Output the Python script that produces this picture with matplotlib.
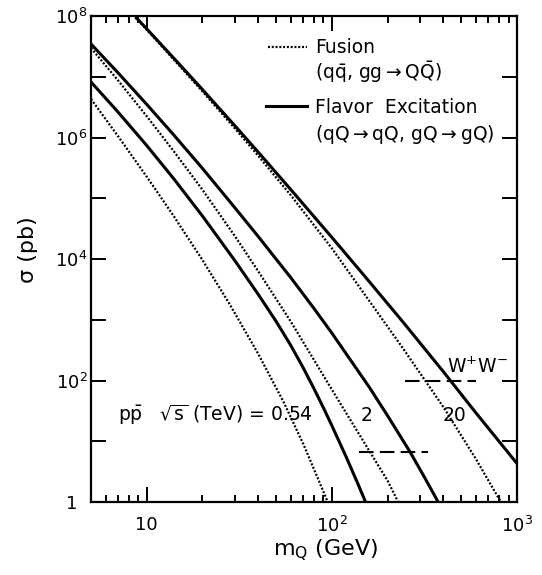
import matplotlib
matplotlib.use("Agg")
import matplotlib.pyplot as plt
from matplotlib.lines import Line2D

plt.rcParams['font.family'] = ['DejaVu Sans']
plt.rcParams['mathtext.fontset'] = 'dejavusans'

# ---- data ----
# sqrt(s) = 0.54 TeV
fus054_m = [5, 7, 10, 14, 20, 28, 40, 55, 70, 85, 95]
fus054_s = [4.3e6, 1.05e6, 2.26e5, 5.07e4, 9.6e3, 1.82e3, 275, 43.6, 9.1, 2.25, 1.0]
fe054_m = [5, 7, 10, 14, 20, 30, 40, 50, 60, 70, 80, 90, 100, 120, 140, 152]
fe054_s = [8.2e6, 2.62e6, 7.38e5, 2.09e5, 5.1e4, 9.3e3, 2.62e3, 940, 378, 162, 73.8,
           35.6, 18.1, 5.36, 1.82, 1.0]
# sqrt(s) = 2 TeV
fus2_m = [5, 7, 10, 14, 20, 30, 40, 60, 80, 100, 130, 160, 200, 228]
fus2_s = [2.97e7, 8.7e6, 2.24e6, 5.94e5, 1.38e5, 2.36e4, 6.3e3, 933, 219, 70.8, 19.1,
          6.8, 2.24, 1.0]
fe2_m = [5, 7, 10, 14, 20, 30, 40, 60, 80, 100, 130, 160, 200, 265, 320, 375]
fe2_s = [3.46e7, 1.16e7, 3.51e6, 1.1e6, 3.1e5, 6.92e4, 2.35e4, 4.93e3, 1.54e3, 603, 190,
         75.9, 26.3, 6.6, 2.4, 1.0]
# sqrt(s) = 20 TeV
fus20_m = [8.7, 10, 15, 20, 30, 40, 60, 100, 150, 240, 400, 600, 818]
fus20_s = [9.4e7, 5.94e7, 1.52e7, 5.74e6, 1.4e6, 5.0e5, 1.12e5, 1.5e4, 2.64e3, 352, 36.7,
           5.1, 1.0]
fe20_m = [8.7, 10, 15, 20, 30, 40, 60, 100, 150, 240, 400, 600, 1000]
fe20_s = [9.64e7, 6.15e7, 1.61e7, 6.15e6, 1.55e6, 5.75e5, 1.39e5, 2.27e4, 5.27e3, 948,
          140, 29.3, 4.3]
# W+W- levels
ww2_m = [140, 332]
ww2_s = [6.65, 6.65]
ww20_m = [249, 598]
ww20_s = [100, 100]

xticks_major = [10, 100, 1000]
xtick_labels = ['10', r'$10^2$', r'$10^3$']
yticks = [1, 1e1, 1e2, 1e3, 1e4, 1e5, 1e6, 1e7, 1e8]
ytick_labels = ['1', '', r'$10^2$', '', r'$10^4$', '', r'$10^6$', '', r'$10^8$']

fig = plt.figure(figsize=(5.42, 5.75), dpi=100)
ax = fig.add_axes([91/542, (575-502)/575, (517-91)/542, (502-16)/575])
ax.set_xscale('log')
ax.set_yscale('log')
ax.set_xlim(5, 1000)
ax.set_ylim(1, 1e8)

dot = (0, (0.9, 0.8))
lw_s = 2.2
lw_d = 1.6
for m, s in [(fus054_m, fus054_s), (fus2_m, fus2_s), (fus20_m, fus20_s)]:
    ax.plot(m, s, color='black', lw=lw_d, linestyle=dot)
for m, s in [(fe054_m, fe054_s), (fe2_m, fe2_s), (fe20_m, fe20_s)]:
    ax.plot(m, s, color='black', lw=lw_s, solid_capstyle='butt', solid_joinstyle='round')
for m, s in [(ww2_m, ww2_s), (ww20_m, ww20_s)]:
    ax.plot(m, s, color='black', lw=1.5, linestyle=(0, (7, 3)))

# ticks
ax.xaxis.set_major_locator(matplotlib.ticker.FixedLocator(xticks_major))
ax.xaxis.set_major_formatter(matplotlib.ticker.FixedFormatter(xtick_labels))
minors = [v * d for d in (1, 10, 100) for v in range(2, 10) if 5 <= v * d < 1000]
ax.xaxis.set_minor_locator(matplotlib.ticker.FixedLocator(minors))
ax.xaxis.set_minor_formatter(matplotlib.ticker.NullFormatter())
ax.yaxis.set_major_locator(matplotlib.ticker.FixedLocator(yticks))
ax.yaxis.set_major_formatter(matplotlib.ticker.FixedFormatter(ytick_labels))
ax.yaxis.set_minor_locator(matplotlib.ticker.NullLocator())

ax.tick_params(which='both', direction='in', top=True, right=True, width=1.4)
ax.tick_params(which='major', length=10.5, labelsize=13)
ax.tick_params(which='minor', length=5)
ax.tick_params(axis='x', which='major', pad=10)
ax.tick_params(axis='y', which='major', pad=14)
for lab in ax.get_yticklabels():
    lab.set_horizontalalignment('center')
for sp in ax.spines.values():
    sp.set_linewidth(1.6)

# axis labels
ax.text(-0.148, 0.52, 'σ (pb)', transform=ax.transAxes, rotation=90,
        ha='center', va='center', fontsize=16)
ax.text(0.55, -0.10, r'm$_\mathrm{Q}$ (GeV)', transform=ax.transAxes,
        ha='center', va='center', fontsize=16)

# legend
ax.add_line(Line2D([0.415, 0.507], [0.936, 0.936], transform=ax.transAxes,
                   color='black', lw=lw_d, linestyle=dot))
ax.add_line(Line2D([0.411, 0.507], [0.815, 0.815], transform=ax.transAxes,
                   color='black', lw=lw_s))
fs = 13.5
ax.text(0.526, 0.936, 'Fusion', transform=ax.transAxes, ha='left', va='center', fontsize=fs)
ax.text(0.526, 0.884, r'(q$\bar{\mathrm{q}}$, gg$\rightarrow$Q$\bar{\mathrm{Q}}$)',
        transform=ax.transAxes, ha='left', va='center', fontsize=fs)
ax.text(0.526, 0.811, 'Flavor  Excitation', transform=ax.transAxes, ha='left', va='center', fontsize=fs)
ax.text(0.526, 0.757, r'(qQ$\rightarrow$qQ, gQ$\rightarrow$gQ)', transform=ax.transAxes,
        ha='left', va='center', fontsize=fs)

# annotations
ax.text(0.063, 0.179, r'p$\bar{\mathrm{p}}$   $\sqrt{\mathrm{s}}$ (TeV) = 0.54',
        transform=ax.transAxes, ha='left', va='center', fontsize=fs)
ax.text(0.648, 0.179, '2', transform=ax.transAxes, ha='center', va='center', fontsize=fs)
ax.text(0.854, 0.179, '20', transform=ax.transAxes, ha='center', va='center', fontsize=fs)
ax.text(0.906, 0.278, r'W$^{+}$W$^{-}$', transform=ax.transAxes, ha='center', va='center', fontsize=fs)

fig.savefig('out.png', dpi=100)
